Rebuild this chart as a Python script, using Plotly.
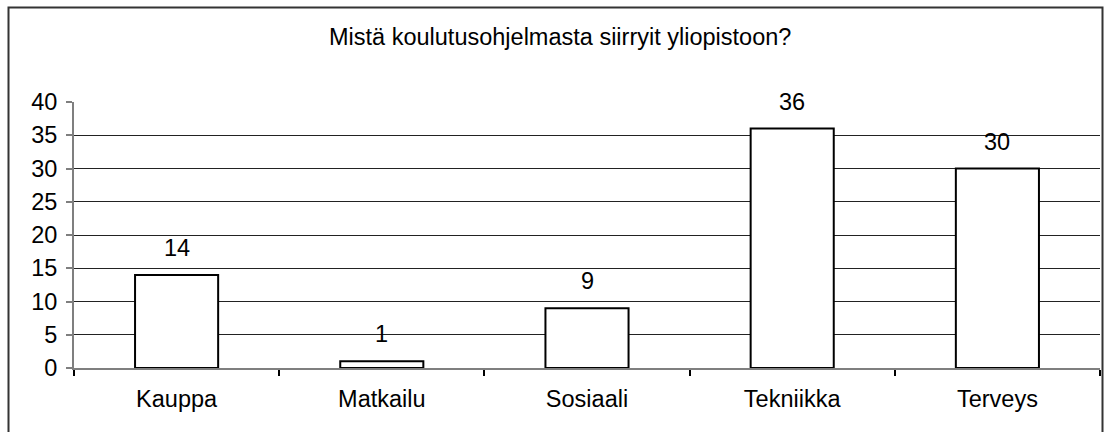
import plotly.graph_objects as go

categories = ["Kauppa", "Matkailu", "Sosiaali", "Tekniikka", "Terveys"]
values = [14, 1, 9, 36, 30]
y_ticks = [0, 5, 10, 15, 20, 25, 30, 35, 40]
title_text = "Mistä koulutusohjelmasta siirryit yliopistoon?"

W, H = 1106, 432
L, R, T, B = 74, 6, 102, 64
pw, ph = W - L - R, H - T - B

def px_x(p):
    return (p - L) / pw

def px_y(p):
    return (H - B - p) / ph

FONT = "Liberation Sans, Arial, sans-serif"
FS = 23.5

fig = go.Figure()
fig.add_trace(go.Bar(
    x=categories, y=values,
    marker=dict(color="white", line=dict(color="black", width=2)),
    width=0.405,
    hoverinfo="skip",
))

for c, v in zip(categories, values):
    fig.add_annotation(x=c, y=v, xref="x", yref="y", text=str(v),
                       showarrow=False, yanchor="bottom", yshift=12,
                       font=dict(family=FONT, size=FS, color="black"))

fig.add_annotation(x=px_x(560), y=px_y(37), xref="paper", yref="paper",
                   text=title_text, showarrow=False,
                   xanchor="center", yanchor="middle",
                   font=dict(family=FONT, size=FS, color="black"))

fig.add_shape(type="rect", xref="paper", yref="paper",
              x0=px_x(8.5), x1=px_x(1102.5), y0=px_y(500), y1=px_y(7.5),
              line=dict(color="#333333", width=2), fillcolor="rgba(0,0,0,0)",
              layer="below")

fig.update_layout(
    width=W, height=H,
    margin=dict(l=L, r=R, t=T, b=B, pad=0),
    paper_bgcolor="white", plot_bgcolor="white",
    showlegend=False,
    font=dict(family=FONT, size=FS, color="black"),
)
fig.update_xaxes(
    type="category",
    showline=True, linecolor="#7f7f7f", linewidth=2,
    ticks="outside", tickson="boundaries", ticklen=6, tickcolor="black", tickwidth=2,
    showgrid=False,
    tickfont=dict(family=FONT, size=FS, color="black"),
    ticklabelstandoff=9,
)
fig.update_yaxes(
    range=[0, 40], tickvals=y_ticks,
    showline=True, linecolor="#7f7f7f", linewidth=2,
    ticks="outside", ticklen=6, tickcolor="#7f7f7f", tickwidth=2,
    showgrid=True, gridcolor="#222222", gridwidth=1,
    zeroline=False,
    tickfont=dict(family=FONT, size=FS, color="black"),
    ticklabelstandoff=4,
)

fig.write_html(
    "out.html",
    config={"displayModeBar": False},
    post_script="document.body.style.margin='0';document.body.style.overflow='hidden';",
)
